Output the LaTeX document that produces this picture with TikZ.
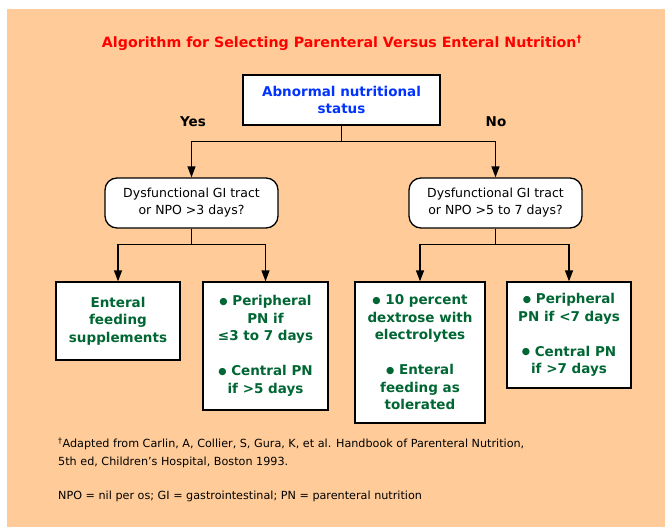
\documentclass[tikz,border=0pt]{standalone}
\usepackage{fontspec}
\setmainfont{DejaVu Sans}
\usetikzlibrary{arrows.meta}

\definecolor{peach}{HTML}{FFCC99}
\definecolor{titlered}{HTML}{FF0000}
\definecolor{statusblue}{HTML}{0033FF}
\definecolor{boxgreen}{HTML}{006633}

\newcommand{\dotitem}{\raisebox{1.6pt}{\fontsize{9.5}{0}\selectfont ●}\ }

\tikzset{
  box/.style={draw=black, fill=white, line width=1.3pt, align=center, inner sep=0pt,
    text=boxgreen, font=\bfseries\fontsize{13.5}{17.5}\selectfont},
  question/.style={box, rounded corners=12pt, text=black, font=\fontsize{12.5}{17}\selectfont},
  answer/.style={font=\bfseries\fontsize{13.5}{15}\selectfont},
  note/.style={anchor=base west, inner sep=0pt, font=\fontsize{11.2}{13}\selectfont},
  arrow/.style={line width=1.3pt, -{Triangle[width=8pt,length=11pt]}}
}

\begin{document}
\begin{tikzpicture}[x=1pt,y=-1pt]
\useasboundingbox (0,0) rectangle (668,527);
\fill[white] (0,0) rectangle (668,527);
\fill[peach] (7,9) rectangle (665,527);

\node[text=titlered, font=\bfseries\fontsize{14.2}{16}\selectfont] (title) at (342,43)
  {Algorithm for Selecting Parenteral Versus Enteral Nutrition\textsuperscript{†}};

\node[box, text=statusblue, minimum width=197pt, minimum height=50pt] (status) at (341.5,100)
  {Abnormal nutritional\\status};
\node[answer] (yes) at (193,122) {Yes};
\node[answer] (no) at (496,122) {No};

\node[question, minimum width=173pt, minimum height=50pt] (qleft) at (191.5,203)
  {Dysfunctional GI tract\\or NPO >3 days?};
\node[question, minimum width=173pt, minimum height=50pt] (qright) at (495.5,203)
  {Dysfunctional GI tract\\or NPO >5 to 7 days?};

\node[box, minimum width=124pt, minimum height=78pt] (enteral) at (118,321)
  {Enteral\\feeding\\supplements};
\node[box, minimum width=125pt, minimum height=128pt] (pnshort) at (265.5,346)
  {\dotitem Peripheral\\PN if\\≤3 to 7 days\\[17.5pt]\dotitem Central PN\\if >5 days};
\node[box, minimum width=130pt, minimum height=141pt] (dextrose) at (420,352.5)
  {\dotitem 10 percent\\dextrose with\\electrolytes\\[17.5pt]\dotitem Enteral\\feeding as\\tolerated};
\node[box, minimum width=124pt, minimum height=106pt] (pnlong) at (569,335)
  {\dotitem Peripheral\\PN if <7 days\\[17.5pt]\dotitem Central PN\\if >7 days};

\draw[arrow] (status.south) -- ++(0,16) -| (qleft.north);
\draw[arrow] (status.south) -- ++(0,16) -| (qright.north);
\draw[arrow] (qleft.south) -- ++(0,16) -| (enteral.north);
\draw[arrow] (qleft.south) -- ++(0,16) -| (pnshort.north);
\draw[arrow] (qright.south) -- ++(0,16) -| (dextrose.north);
\draw[arrow] (qright.south) -- ++(0,16) -| (pnlong.north);

\node[note] (source1) at (58,447)
  {\textsuperscript{†}Adapted from Carlin, A, Collier, S, Gura, K, et al. Handbook of Parenteral Nutrition,};
\node[note] (source2) at (58,465) {5th ed, Children's Hospital, Boston 1993.};
\node[note] (abbrev) at (58,499) {NPO = nil per os; GI = gastrointestinal; PN = parenteral nutrition};
\end{tikzpicture}
\end{document}
